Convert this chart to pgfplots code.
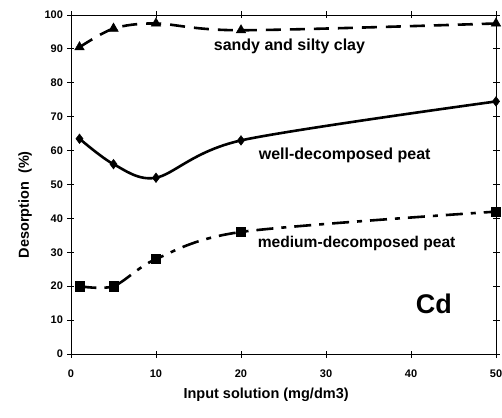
\documentclass[border=0pt]{standalone}
\usepackage{pgfplots}
\pgfplotsset{compat=1.18}
\usepackage{fontspec}
\setmainfont{Liberation Sans}
\begin{document}
\begin{tikzpicture}
\path[use as bounding box] (-71pt,-63pt) rectangle (431pt,354pt);
\begin{axis}[
  scale only axis,
  width=425pt, height=339pt,
  xmin=0, xmax=50, ymin=0, ymax=100,
  xtick={0,10,20,30,40,50},
  ytick={0,10,...,100},
  tick align=center,
  major tick length=7pt,
  axis line style={line width=0.9pt},
  every tick/.style={black, line width=0.9pt},
  tick label style={font=\bfseries\fontsize{11}{13}\selectfont},
  xticklabel style={yshift=-9pt},
  yticklabel style={xshift=-1pt},
  /pgf/number format/assume math mode=true,
  xlabel={Input solution (mg/dm3)},
  ylabel={Desorption\ \ (\%)},
  label style={font=\bfseries\fontsize{14.5}{17}\selectfont},
  xlabel style={at={(axis description cs:0.459,-0.121)}, anchor=center},
  ylabel style={at={(axis description cs:-0.108,0.44)}, anchor=center},
  clip=false,
]
\addplot[black, line width=2.6pt, dash pattern=on 15pt off 9pt, smooth, tension=0.5,
  mark=triangle*, mark size=5.5pt, mark options={solid, line width=0.5pt}]
  coordinates {(1,90.5) (5,96) (10,97.5) (20,95.5) (50,97.5)};
\addplot[black, line width=2.6pt, smooth, tension=0.5,
  mark=diamond*, mark size=4.8pt, mark options={solid, line width=0.5pt}]
  coordinates {(1,63.5) (5,56) (10,52) (20,63) (50,74.5)};
\addplot[black, line width=2.6pt, dash pattern=on 17pt off 8pt on 5pt off 8pt, smooth, tension=0.5,
  mark=square*, mark size=4.6pt, mark options={solid, line width=0.5pt}]
  coordinates {(1,20) (5,20) (10,28) (20,36) (50,42)};
\node[font=\bfseries\fontsize{16}{18}\selectfont] at (axis cs:25.7,90.6) {sandy and silty clay};
\node[font=\bfseries\fontsize{16}{18}\selectfont] at (axis cs:32.2,58.7) {well-decomposed peat};
\node[font=\bfseries\fontsize{15.6}{18}\selectfont] at (axis cs:33.6,32.7) {medium-decomposed peat};
\node[font=\bfseries\fontsize{27}{30}\selectfont] at (axis cs:42.7,14.7) {Cd};
\end{axis}
\end{tikzpicture}
\end{document}
